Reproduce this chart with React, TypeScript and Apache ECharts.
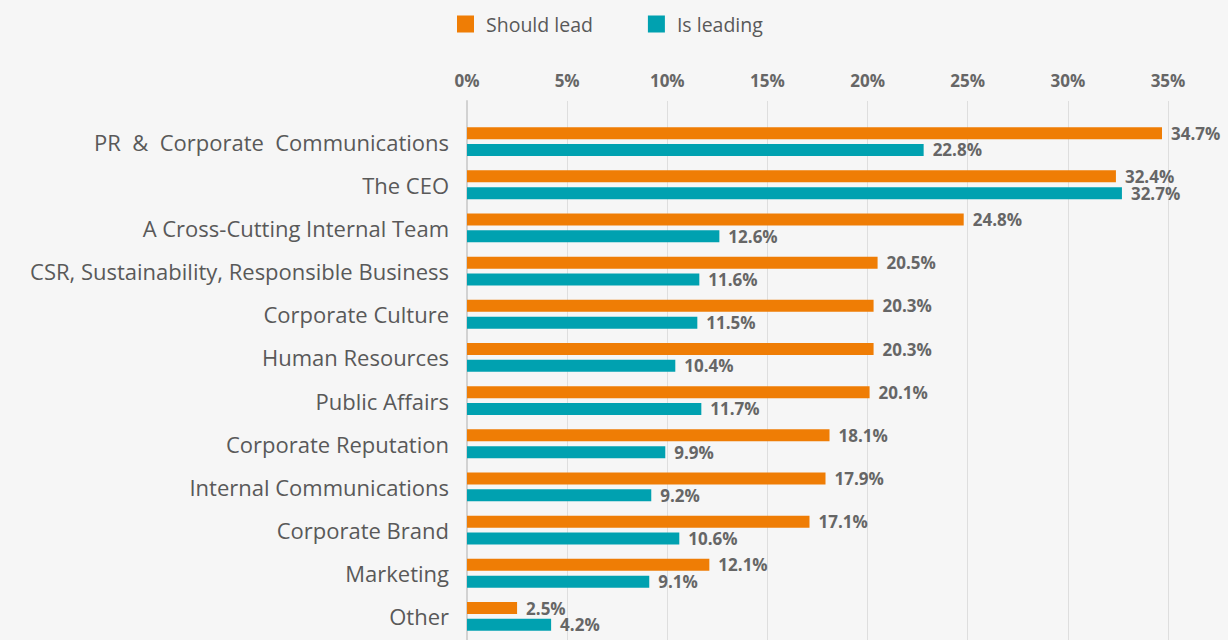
import React, { useEffect, useRef } from "react";
import * as echarts from "echarts";

const categories = [
  "PR  &  Corporate  Communications",
  "The CEO",
  "A Cross-Cutting Internal Team",
  "CSR, Sustainability, Responsible Business",
  "Corporate Culture",
  "Human Resources",
  "Public Affairs",
  "Corporate Reputation",
  "Internal Communications",
  "Corporate Brand",
  "Marketing",
  "Other",
];
const shouldLead = [34.7, 32.4, 24.8, 20.5, 20.3, 20.3, 20.1, 18.1, 17.9, 17.1, 12.1, 2.5];
const isLeading = [22.8, 32.7, 12.6, 11.6, 11.5, 10.4, 11.7, 9.9, 9.2, 10.6, 9.1, 4.2];
const seriesNames = ["Should lead", "Is leading"];

const FONT = "'Open Sans', sans-serif";
const ORANGE = "#ef7d05";
const TEAL = "#00a1b0";

export default function App() {
  const ref = useRef<HTMLDivElement>(null);
  useEffect(() => {
    if (!ref.current) return;
    const chart = echarts.init(ref.current, undefined, { renderer: "svg" });
    const labelStyle = {
      show: true,
      position: "right",
      distance: 9,
      color: "#666666",
      fontFamily: FONT,
      fontWeight: "bold",
      fontSize: 17,
      lineHeight: 15,
      formatter: (p: any) => Number(p.value).toFixed(1) + "%",
    };
    chart.setOption({
      animation: false,
      backgroundColor: "#f6f6f6",
      textStyle: { fontFamily: FONT },
      legend: {
        left: 457,
        top: 14,
        padding: 0,
        itemWidth: 17,
        itemHeight: 17,
        itemGap: 55,
        icon: "rect",
        textStyle: { color: "#595959", fontSize: 19.5, fontFamily: FONT, padding: [0, 0, 0, 7] },
        data: seriesNames,
      },
      grid: [
        { left: 467, width: 701, top: 101, bottom: 0 },
        { left: 467, width: 701, top: 120, height: 518 },
      ],
      xAxis: [
        {
          gridIndex: 0,
          type: "value",
          position: "top",
          min: 0,
          max: 35,
          interval: 5,
          axisLine: { show: false },
          axisTick: { show: false },
          axisLabel: {
            formatter: "{value}%",
            color: "#666666",
            fontWeight: "bold",
            fontSize: 17,
            fontFamily: FONT,
            margin: 12,
          },
          splitLine: { show: true, lineStyle: { color: "#dedede", width: 1 } },
        },
        {
          gridIndex: 1,
          type: "value",
          min: 0,
          max: 35,
          interval: 5,
          show: false,
          splitLine: { show: false },
        },
      ],
      yAxis: [
        {
          gridIndex: 0,
          type: "value",
          min: 0,
          max: 1,
          axisLabel: { show: false },
          axisTick: { show: false },
          splitLine: { show: false },
          axisLine: { show: true, lineStyle: { color: "#d2d2d2", width: 2 } },
        },
        {
          gridIndex: 1,
          type: "category",
          inverse: true,
          data: categories,
          axisLine: { show: false },
          axisTick: { show: false },
          axisLabel: {
            color: "#595959",
            fontSize: 22,
            fontFamily: FONT,
            margin: 18,
            padding: [0, 0, 5, 0],
          },
        },
      ],
      series: [
        {
          name: seriesNames[0],
          type: "bar",
          xAxisIndex: 1,
          yAxisIndex: 1,
          data: shouldLead,
          barWidth: 12,
          barGap: "40%",
          itemStyle: { color: ORANGE },
          label: labelStyle,
        },
        {
          name: seriesNames[1],
          type: "bar",
          xAxisIndex: 1,
          yAxisIndex: 1,
          data: isLeading,
          barWidth: 12,
          barGap: "40%",
          itemStyle: { color: TEAL },
          label: labelStyle,
        },
      ],
    });
    return () => chart.dispose();
  }, []);
  return (
    <div
      ref={ref}
      style={{ position: "fixed", left: 0, top: 0, width: 1228, height: 640 }}
    />
  );
}
